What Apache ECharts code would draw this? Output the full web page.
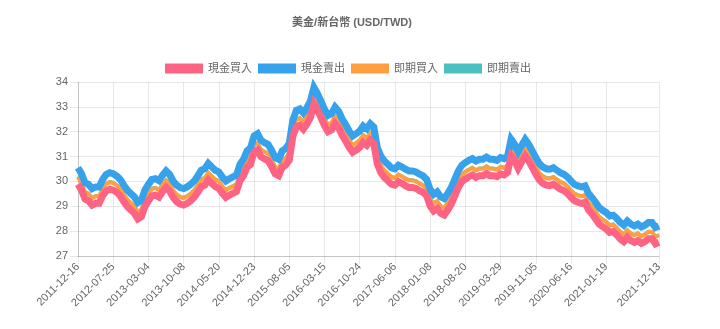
<!DOCTYPE html>
<html>
<head>
<meta charset="utf-8">
<script src="https://cdn.jsdelivr.net/npm/echarts@6/dist/echarts.min.js"></script>
<style>
html,body{margin:0;padding:0;background:#fff;}
#c{width:720px;height:329px;}
</style>
</head>
<body>
<div id="c"></div>
<script>
// Tick labels (every 10th sampled point, plus the final date)
var tickLabels = ['2011-12-16','2012-07-25','2013-03-04','2013-10-08','2014-05-20','2014-12-23','2015-08-05','2016-03-15','2016-10-24','2017-06-06','2018-01-08','2018-08-20','2019-03-29','2019-11-05','2020-06-16','2021-01-19','2021-12-13'];
var tickIndex = [0,10,20,30,40,50,60,70,80,90,100,110,120,130,140,150,165];

var seriesNames = ['現金買入','現金賣出','即期買入','即期賣出'];

var cashBuy = [29.89,29.65,29.29,29.22,29.05,29.12,29.12,29.42,29.62,29.69,
29.65,29.56,29.42,29.19,28.99,28.85,28.72,28.49,28.58,28.99,
29.22,29.42,29.45,29.37,29.59,29.76,29.62,29.36,29.19,29.09,
29.05,29.12,29.22,29.36,29.56,29.79,29.85,30.06,29.92,29.79,
29.72,29.52,29.36,29.45,29.52,29.59,30.03,30.23,30.57,30.69,
31.17,31.26,30.99,30.90,30.83,30.59,30.30,30.23,30.57,30.66,
30.86,31.80,32.20,32.26,32.10,32.30,32.57,33.12,32.87,32.57,
32.24,32.00,32.07,32.33,32.17,31.86,31.63,31.37,31.17,31.26,
31.37,31.57,31.46,31.66,31.53,30.70,30.36,30.16,30.03,29.89,
29.85,29.99,29.92,29.83,29.76,29.76,29.72,29.63,29.56,29.42,
29.02,28.82,28.92,28.72,28.65,28.85,29.09,29.42,29.76,29.99,
30.10,30.19,30.26,30.16,30.23,30.23,30.32,30.23,30.23,30.19,
30.30,30.26,30.36,31.03,30.83,30.53,30.79,31.03,30.83,30.57,
30.30,30.06,29.92,29.85,29.83,29.89,29.79,29.69,29.63,29.52,
29.36,29.22,29.16,29.12,29.16,28.85,28.69,28.49,28.29,28.18,
28.09,27.95,27.98,27.85,27.69,27.58,27.75,27.62,27.55,27.62,
27.51,27.58,27.69,27.69,27.49,27.55];

var cashSell = [30.55,30.31,29.95,29.88,29.71,29.78,29.78,30.08,30.28,30.35,
30.31,30.22,30.08,29.85,29.65,29.51,29.38,29.15,29.24,29.65,
29.88,30.08,30.11,30.03,30.25,30.42,30.28,30.02,29.85,29.75,
29.71,29.78,29.88,30.02,30.22,30.45,30.51,30.72,30.58,30.45,
30.38,30.18,30.02,30.11,30.18,30.25,30.69,30.89,31.23,31.35,
31.83,31.92,31.65,31.56,31.49,31.25,30.96,30.89,31.23,31.32,
31.52,32.46,32.86,32.92,32.76,32.96,33.23,33.78,33.53,33.23,
32.90,32.66,32.73,32.99,32.83,32.52,32.29,32.03,31.83,31.92,
32.03,32.23,32.12,32.32,32.19,31.36,31.02,30.82,30.69,30.55,
30.51,30.65,30.58,30.49,30.42,30.42,30.38,30.29,30.22,30.08,
29.68,29.48,29.58,29.38,29.31,29.51,29.75,30.08,30.42,30.65,
30.76,30.85,30.92,30.82,30.89,30.89,30.98,30.89,30.89,30.85,
30.96,30.92,31.02,31.69,31.49,31.19,31.45,31.69,31.49,31.23,
30.96,30.72,30.58,30.51,30.49,30.55,30.45,30.35,30.29,30.18,
30.02,29.88,29.82,29.78,29.82,29.51,29.35,29.15,28.95,28.84,
28.75,28.61,28.64,28.51,28.35,28.24,28.41,28.28,28.21,28.28,
28.17,28.24,28.35,28.35,28.15,28.21];

var spotBuy = [30.17,29.93,29.57,29.50,29.33,29.40,29.40,29.70,29.90,29.97,
29.93,29.84,29.70,29.47,29.27,29.13,29.00,28.77,28.86,29.27,
29.50,29.70,29.73,29.65,29.87,30.04,29.90,29.64,29.47,29.37,
29.33,29.40,29.50,29.64,29.84,30.07,30.13,30.34,30.20,30.07,
30.00,29.80,29.64,29.73,29.80,29.87,30.31,30.51,30.85,30.97,
31.45,31.54,31.27,31.18,31.11,30.87,30.58,30.51,30.85,30.94,
31.14,32.08,32.48,32.54,32.38,32.58,32.85,33.40,33.15,32.85,
32.52,32.28,32.35,32.61,32.45,32.14,31.91,31.65,31.45,31.54,
31.65,31.85,31.74,31.94,31.81,30.98,30.64,30.44,30.31,30.17,
30.13,30.27,30.20,30.11,30.04,30.04,30.00,29.91,29.84,29.70,
29.30,29.10,29.20,29.00,28.93,29.13,29.37,29.70,30.04,30.27,
30.38,30.47,30.54,30.44,30.51,30.51,30.60,30.51,30.51,30.47,
30.58,30.54,30.64,31.31,31.11,30.81,31.07,31.31,31.11,30.85,
30.58,30.34,30.20,30.13,30.11,30.17,30.07,29.97,29.91,29.80,
29.64,29.50,29.44,29.40,29.44,29.13,28.97,28.77,28.57,28.46,
28.37,28.23,28.26,28.13,27.97,27.86,28.03,27.90,27.83,27.90,
27.79,27.86,27.97,27.97,27.77,27.83];

var spotSell = [30.20,29.96,29.60,29.53,29.36,29.43,29.43,29.73,29.93,30.00,
29.96,29.87,29.73,29.50,29.30,29.16,29.03,28.80,28.89,29.30,
29.53,29.73,29.76,29.68,29.90,30.07,29.93,29.67,29.50,29.40,
29.36,29.43,29.53,29.67,29.87,30.10,30.16,30.37,30.23,30.10,
30.03,29.83,29.67,29.76,29.83,29.90,30.34,30.54,30.88,31.00,
31.48,31.57,31.30,31.21,31.14,30.90,30.61,30.54,30.88,30.97,
31.17,32.11,32.51,32.57,32.41,32.61,32.88,33.43,33.18,32.88,
32.55,32.31,32.38,32.64,32.48,32.17,31.94,31.68,31.48,31.57,
31.68,31.88,31.77,31.97,31.84,31.01,30.67,30.47,30.34,30.20,
30.16,30.30,30.23,30.14,30.07,30.07,30.03,29.94,29.87,29.73,
29.33,29.13,29.23,29.03,28.96,29.16,29.40,29.73,30.07,30.30,
30.41,30.50,30.57,30.47,30.54,30.54,30.63,30.54,30.54,30.50,
30.61,30.57,30.67,31.34,31.14,30.84,31.10,31.34,31.14,30.88,
30.61,30.37,30.23,30.16,30.14,30.20,30.10,30.00,29.94,29.83,
29.67,29.53,29.47,29.43,29.47,29.16,29.00,28.80,28.60,28.49,
28.40,28.26,28.29,28.16,28.00,27.89,28.06,27.93,27.86,27.93,
27.82,27.89,28.00,28.00,27.80,27.86];

// Build category list from tick labels
var categories = [];
for (var i = 0; i < cashBuy.length; i++) {
  var p = tickIndex.indexOf(i);
  categories.push(p >= 0 ? tickLabels[p] : ('#' + i));
}
function isTick(idx) { return tickIndex.indexOf(idx) >= 0; }

var FONT = "'Liberation Sans', Arial, 'Noto Sans CJK TC', sans-serif";
var GRID = 'rgba(0,0,0,0.09)';

var chart = echarts.init(document.getElementById('c'), null, {renderer: 'canvas'});
chart.setOption({
  animation: false,
  backgroundColor: '#ffffff',
  title: {
    text: '美金/新台幣 (USD/TWD)',
    left: 352, textAlign: 'center', top: 17, padding: 0,
    textStyle: {fontFamily: FONT, fontSize: 11, fontWeight: 'bold', color: '#666'}
  },
  legend: {
    data: seriesNames,
    left: 165, top: 63, padding: 0,
    itemWidth: 38, itemHeight: 10, itemGap: 6,
    icon: 'rect',
    textStyle: {fontFamily: FONT, fontSize: 11, color: '#666'}
  },
  grid: {left: 78, right: 61, top: 82, bottom: 73, containLabel: false},
  xAxis: {
    type: 'category',
    data: categories,
    boundaryGap: false,
    axisLine: {show: true, lineStyle: {color: 'rgba(0,0,0,0.15)'}},
    axisTick: {show: true, length: 8, interval: function (idx) { return isTick(idx); }, lineStyle: {color: GRID}},
    splitLine: {show: true, interval: function (idx) { return isTick(idx); }, lineStyle: {color: GRID}},
    axisLabel: {
      interval: function (idx) { return isTick(idx); },
      rotate: 45, margin: 9,
      fontFamily: FONT, fontSize: 11, color: '#666'
    }
  },
  yAxis: {
    type: 'value',
    min: 27, max: 34, interval: 1,
    axisLine: {show: true, lineStyle: {color: 'rgba(0,0,0,0.15)'}},
    axisTick: {show: true, length: 8, lineStyle: {color: GRID}},
    splitLine: {show: true, lineStyle: {color: GRID}},
    axisLabel: {margin: 10, fontFamily: FONT, fontSize: 11, color: '#666'}
  },
  series: [
    {name: seriesNames[0], type: 'line', data: cashBuy, showSymbol: false, symbol: 'none', z: 5,
     color: 'rgb(255,99,132)', lineStyle: {width: 7, join: 'miter', color: 'rgb(255,99,132)'}},
    {name: seriesNames[1], type: 'line', data: cashSell, showSymbol: false, symbol: 'none', z: 4,
     color: 'rgb(54,162,235)', lineStyle: {width: 7, join: 'miter', color: 'rgb(54,162,235)'}},
    {name: seriesNames[2], type: 'line', data: spotBuy, showSymbol: false, symbol: 'none', z: 3,
     color: 'rgb(255,159,64)', lineStyle: {width: 4, join: 'miter', color: 'rgb(255,159,64)'}},
    {name: seriesNames[3], type: 'line', data: spotSell, showSymbol: false, symbol: 'none', z: 2,
     color: 'rgb(75,192,192)', lineStyle: {width: 3, join: 'miter', color: 'rgb(75,192,192)'}}
  ]
});
</script>
</body>
</html>
